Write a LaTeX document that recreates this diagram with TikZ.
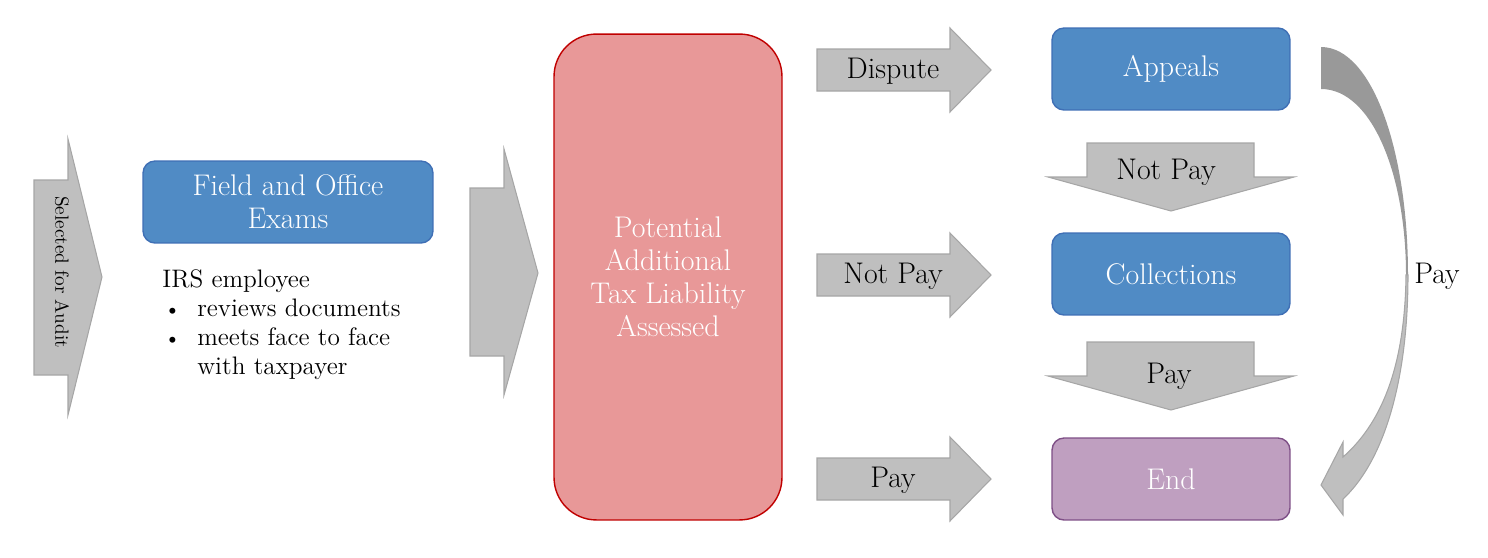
\documentclass[tikz,border=0pt]{standalone}
\definecolor{arrowgray}{HTML}{BFBFBF}
\definecolor{arrowedge}{HTML}{A6A6A6}
\definecolor{curvedark}{HTML}{999999}
\definecolor{boxblue}{HTML}{508BC5}
\definecolor{boxblueedge}{HTML}{3F6FB5}
\definecolor{potfill}{HTML}{E89898}
\definecolor{potedge}{HTML}{C00000}
\definecolor{endfill}{HTML}{BF9FC0}
\definecolor{endedge}{HTML}{7E4F86}
\newcommand{\irsbullet}{\makebox[0.7cm][l]{\hspace*{1pt}{\fontsize{12.5}{12.5}\selectfont\textbullet}}}
\begin{document}
\begin{tikzpicture}[x=0.02cm,y=-0.02cm,
  garrow/.style={fill=arrowgray,draw=arrowedge,line width=0.6pt,line join=miter},
  mainfont/.style={font=\fontsize{17}{18.8}\selectfont},
  lbl/.style={mainfont,text=black,align=center,inner sep=0pt},
  sbox/.style={rounded corners=0.24cm,line width=0.8pt,minimum width=4.76cm,minimum height=1.64cm,mainfont,text=white,align=center},
  bluebox/.style={sbox,fill=boxblue,draw=boxblueedge}]
\useasboundingbox (0,0) rectangle (1488,558);

% Selected for Audit arrow
\draw[garrow] (34,180) -- (68,180) -- (68,139) -- (102,277) -- (68,415) -- (68,375) -- (34,375) -- cycle;
\node[rotate=-90,font=\fontsize{10.9}{13}\selectfont,inner sep=0pt] (sel) at (62,272) {Selected for Audit};

% Field and Office box
\node[bluebox,minimum width=5.8cm] (field) at (288,202) {Field and Office\\Exams};

% IRS text
\node[anchor=north west,inner sep=0pt,align=left,font=\fontsize{14.4}{16.5}\selectfont] (irs) at (162,269)
  {IRS employee\\
   \irsbullet reviews documents\\
   \irsbullet meets face to face\\
   \hspace*{0.7cm}with taxpayer};

% middle arrow
\draw[garrow] (470,188) -- (504,188) -- (504,149) -- (538,273) -- (504,395) -- (504,356) -- (470,356) -- cycle;

% Potential box
\node[rounded corners=0.85cm,line width=0.8pt,fill=potfill,draw=potedge,minimum width=4.56cm,minimum height=9.72cm,mainfont,text=white,align=center] (pot) at (668,277)
  {Potential\\Additional\\Tax Liability\\Assessed};

% right arrows
\draw[garrow] (817,49) -- (950,49) -- (950,28) -- (991,70) -- (950,112) -- (950,91) -- (817,91) -- cycle;
\node[lbl] (dispute) at (893,71) {Dispute};
\draw[garrow] (817,254) -- (950,254) -- (950,233) -- (991,275) -- (950,317) -- (950,296) -- (817,296) -- cycle;
\node[lbl] (notpayA) at (893,276) {Not Pay};
\draw[garrow] (817,458) -- (950,458) -- (950,437) -- (991,479) -- (950,521) -- (950,500) -- (817,500) -- cycle;
\node[lbl] (payA) at (893,480) {Pay};

% right boxes
\node[bluebox] (appeals) at (1171,69) {Appeals};
\node[bluebox] (collections) at (1171,274) {Collections};
\node[sbox,fill=endfill,draw=endedge] (endbox) at (1171,479) {End};

% down arrows
\draw[garrow] (1087,143) -- (1254,143) -- (1254,177) -- (1294,177) -- (1171,211) -- (1048,177) -- (1087,177) -- cycle;
\node[lbl] (notpayB) at (1166,172) {Not Pay};
\draw[garrow] (1087,342) -- (1254,342) -- (1254,376) -- (1294,376) -- (1171,410) -- (1048,376) -- (1087,376) -- cycle;
\node[lbl] (payB) at (1169,376) {Pay};

% curved arrow
\fill[curvedark] (1321,47) .. controls (1372,47) and (1408,150) .. (1408,275)
  -- (1406,275) .. controls (1406,175) and (1372,89) .. (1321,89) -- cycle;
\draw[garrow] (1408,275) .. controls (1408,390) and (1380,465) .. (1343,499)
  -- (1343,515) -- (1321,485) -- (1343,442) -- (1343,457)
  .. controls (1385,420) and (1405,360) .. (1406,275) -- cycle;
\node[lbl] (payC) at (1437,276) {Pay};
\end{tikzpicture}
\end{document}
